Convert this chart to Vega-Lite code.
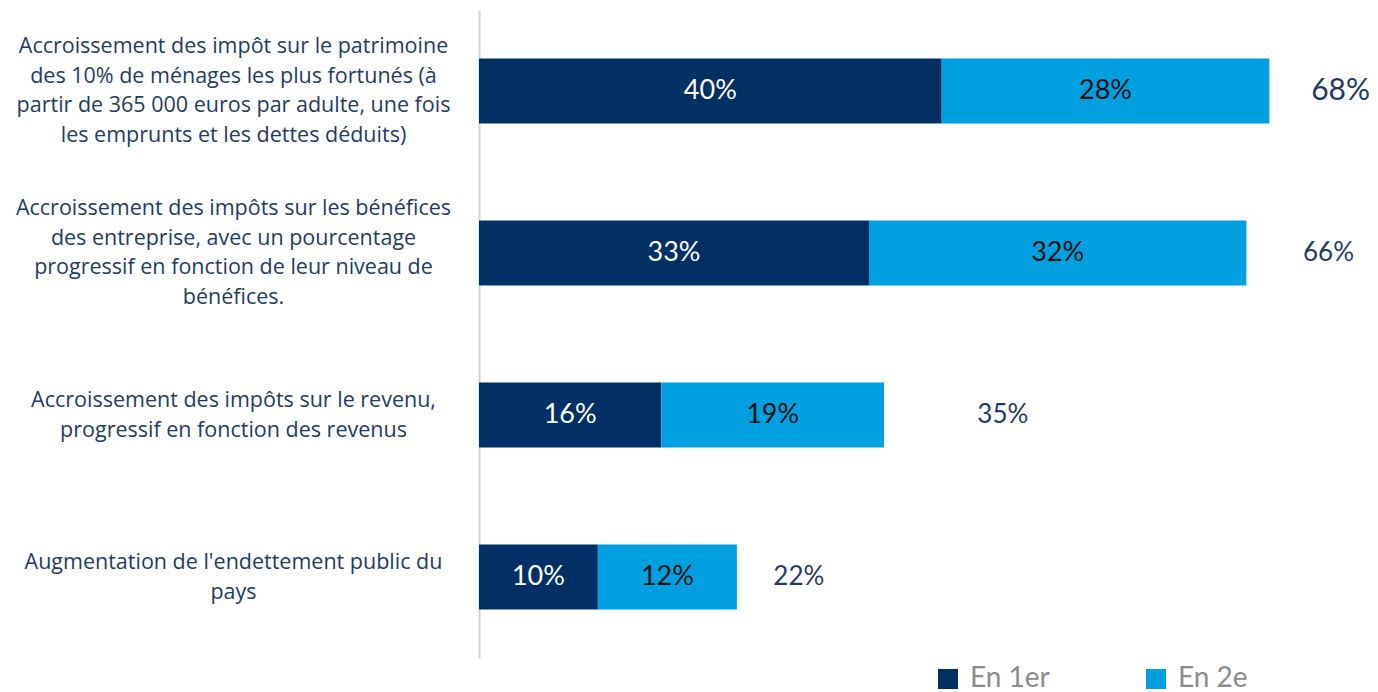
{
  "$schema": "https://vega.github.io/schema/vega-lite/v6.json",
  "width": 900,
  "height": 648,
  "autosize": "none",
  "padding": {"left": 479, "top": 10, "right": 0, "bottom": 34},
  "background": "white",
  "config": {"view": {"stroke": null}, "font": "Lato"},
  "data": {"values": [
    {"cat": "Accroissement des impôt sur le patrimoine|des 10% de ménages les plus fortunés (à|partir de 365 000 euros par adulte, une fois|les emprunts et les dettes déduits)", "serie": "En 1er", "value": 40.1, "pct": 40, "total": 68},
    {"cat": "Accroissement des impôt sur le patrimoine|des 10% de ménages les plus fortunés (à|partir de 365 000 euros par adulte, une fois|les emprunts et les dettes déduits)", "serie": "En 2e", "value": 28.4, "pct": 28, "total": 68},
    {"cat": "Accroissement des impôts sur les bénéfices|des entreprise,  avec un pourcentage|progressif en fonction de leur niveau de|bénéfices.", "serie": "En 1er", "value": 33.8, "pct": 33, "total": 66},
    {"cat": "Accroissement des impôts sur les bénéfices|des entreprise,  avec un pourcentage|progressif en fonction de leur niveau de|bénéfices.", "serie": "En 2e", "value": 32.7, "pct": 32, "total": 66},
    {"cat": "Accroissement des impôts sur le revenu,|progressif en fonction des revenus", "serie": "En 1er", "value": 15.8, "pct": 16, "total": 35},
    {"cat": "Accroissement des impôts sur le revenu,|progressif en fonction des revenus", "serie": "En 2e", "value": 19.3, "pct": 19, "total": 35},
    {"cat": "Augmentation de l'endettement public du|pays", "serie": "En 1er", "value": 10.3, "pct": 10, "total": 22},
    {"cat": "Augmentation de l'endettement public du|pays", "serie": "En 2e", "value": 12.05, "pct": 12, "total": 22}
  ]},
  "transform": [
    {"calculate": "datum.serie === 'En 1er' ? 0 : 1", "as": "ord"},
    {"calculate": "datum.pct + '%'", "as": "lbl"},
    {"calculate": "datum.total + '%'", "as": "tlbl"},
    {"stack": "value", "groupby": ["cat"], "sort": [{"field": "ord", "order": "ascending"}], "as": ["v0", "v1"]},
    {"calculate": "(datum.v0 + datum.v1) / 2", "as": "mid"}
  ],
  "encoding": {
    "y": {
      "field": "cat", "type": "nominal", "sort": null, "title": null,
      "scale": {"paddingInner": 0.6, "paddingOuter": 0.3},
      "axis": {
        "labelExpr": "split(datum.label, '|')",
        "labelFontSize": 21.5, "labelColor": "#1f3b66", "labelFont": "Open Sans",
        "labelAlign": "center", "labelPadding": 246, "labelLimit": 0,
        "labelLineHeight": 29.5, "labelBaseline": "middle",
        "labelOffset": {"condition": {"test": "length(split(datum.label, '|')) === 4", "value": -44}, "value": -14},
        "ticks": false, "domainColor": "#d4d4d4", "domainWidth": 2
      }
    }
  },
  "layer": [
    {
      "mark": {"type": "bar"},
      "encoding": {
        "x": {"field": "v0", "type": "quantitative", "scale": {"domain": [0, 78], "nice": false}, "axis": null},
        "x2": {"field": "v1"},
        "color": {
          "field": "serie", "type": "nominal", "title": null,
          "scale": {"domain": ["En 1er", "En 2e"], "range": ["#003064", "#009fe0"]},
          "legend": {
            "orient": "none", "legendX": 455, "legendY": 655, "direction": "horizontal",
            "symbolType": "square", "symbolSize": 400, "symbolStrokeWidth": 0,
            "labelFontSize": 28, "labelColor": "#8c8c8c", "labelFont": "Lato",
            "labelOffset": 8, "columnPadding": 92
          }
        }
      }
    },
    {
      "mark": {"type": "text", "fontSize": 27, "align": "center", "baseline": "middle"},
      "encoding": {
        "x": {"field": "mid", "type": "quantitative"},
        "text": {"field": "lbl"},
        "color": {"condition": {"test": "datum.serie === 'En 1er'", "value": "white"}, "value": "#111111"}
      }
    },
    {
      "transform": [{"filter": "datum.serie === 'En 1er' && datum.total === 68"}],
      "mark": {"type": "text", "fontSize": 30, "align": "center", "baseline": "middle", "dx": 77, "color": "#1f3b66"},
      "encoding": {"x": {"field": "total", "type": "quantitative"}, "text": {"field": "tlbl"}}
    },
    {
      "transform": [{"filter": "datum.serie === 'En 1er' && datum.total === 66"}],
      "mark": {"type": "text", "fontSize": 26, "align": "center", "baseline": "middle", "dx": 88, "color": "#1f3b66"},
      "encoding": {"x": {"field": "total", "type": "quantitative"}, "text": {"field": "tlbl"}}
    },
    {
      "transform": [{"filter": "datum.serie === 'En 1er' && datum.total === 35"}],
      "mark": {"type": "text", "fontSize": 26, "align": "center", "baseline": "middle", "dx": 120, "color": "#1f3b66"},
      "encoding": {"x": {"field": "total", "type": "quantitative"}, "text": {"field": "tlbl"}}
    },
    {
      "transform": [{"filter": "datum.serie === 'En 1er' && datum.total === 22"}],
      "mark": {"type": "text", "fontSize": 26, "align": "center", "baseline": "middle", "dx": 66, "color": "#1f3b66"},
      "encoding": {"x": {"field": "total", "type": "quantitative"}, "text": {"field": "tlbl"}}
    }
  ]
}
